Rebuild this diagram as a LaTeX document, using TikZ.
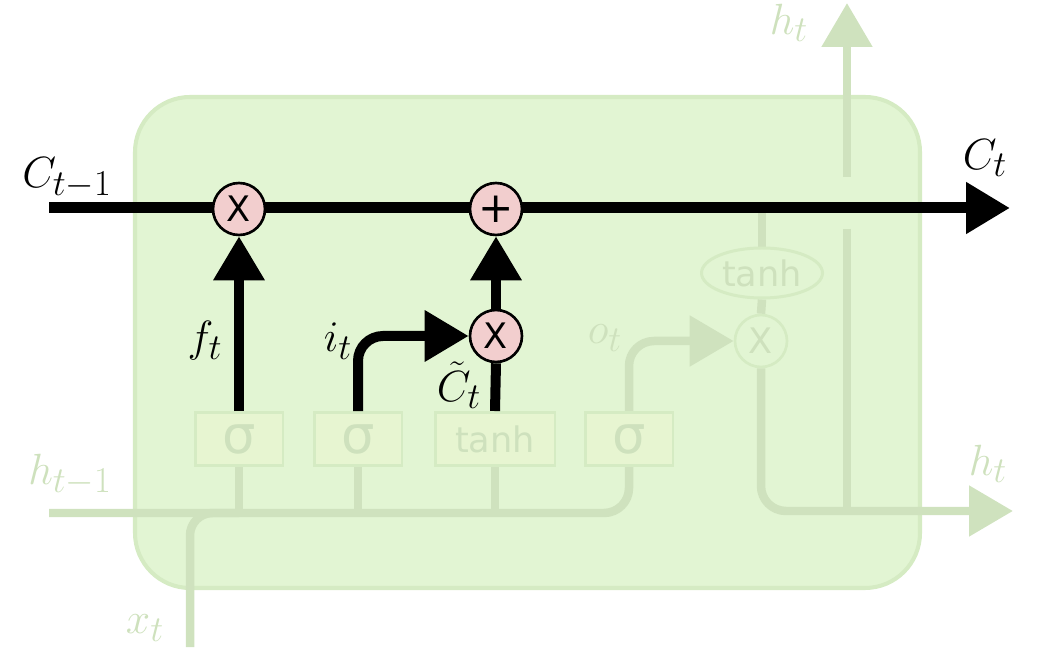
\documentclass[tikz,border=0pt]{standalone}
\usepackage{fontspec}
\newfontfamily\gatefont{DejaVu Sans}
\usetikzlibrary{arrows.meta,positioning,shapes.geometric}
\definecolor{cellfill}{RGB}{226,245,211}
\definecolor{celledge}{RGB}{213,235,195}
\definecolor{fadeline}{RGB}{207,226,190}
\definecolor{fadetext}{RGB}{206,225,189}
\definecolor{gatefill}{RGB}{231,245,209}
\definecolor{opfill}{RGB}{242,206,206}
\pgfdeclarelayer{cell}
\pgfdeclarelayer{flow}
\pgfsetlayers{cell,flow,main}

\tikzset{
    bigtip/.tip={Triangle[length=0.88cm,width=0.98cm]},
    cellline/.style={line width=0.22cm, black},
    gateline/.style={line width=0.2cm, black},
    fadeflow/.style={line width=0.17cm, fadeline},
    gatebox/.style={draw=celledge, fill=gatefill, line width=1.7pt, inner sep=0pt,
        minimum width=1.76cm, minimum height=1.06cm, text=fadetext,
        font=\gatefont\fontsize{30}{30}\selectfont},
    tanhbox/.style={gatebox, minimum width=2.4cm, font=\gatefont\fontsize{20}{20}\selectfont},
    tanhoval/.style={ellipse, draw=celledge, fill=cellfill, line width=1.7pt, inner sep=0pt,
        minimum width=2.42cm, minimum height=1.0cm, text=fadetext,
        font=\gatefont\fontsize{20}{20}\selectfont},
    opnode/.style={circle, draw=black, fill=opfill, line width=1.5pt, inner sep=0pt,
        minimum size=1.04cm, font=\gatefont\fontsize{20}{20}\selectfont},
    fadeop/.style={opnode, draw=celledge, fill=cellfill, text=fadetext},
    lbl/.style={font=\fontsize{28}{32}\selectfont},
    fadelbl/.style={lbl, text=fadetext}
}

\begin{document}
\begin{tikzpicture}[x=0.02cm, y=-0.02cm]
    \useasboundingbox (0,0) rectangle (1055,658);
    % the cell
    \begin{pgfonlayer}{cell}
    \fill[cellfill, draw=celledge, line width=2.3pt, rounded corners=1.1cm]
        (135,97) rectangle (920,588);
    \end{pgfonlayer}
    \coordinate (cprev) at (49,208);
    \coordinate (cnext) at (1010,208);
    \coordinate (hprev) at (49,513);
    \coordinate (hright) at (1013,511);
    \coordinate (xin) at (190,647);
    \coordinate (htop) at (847,3);
    \coordinate (gaphi) at (847,177);
    \coordinate (gaplo) at (847,229);

    \node[gatebox] (sigf) at (239,439) {σ};
    \node[gatebox] (sigi) at (358,439) {σ};
    \node[tanhbox] (tanhc) at (495,439) {tanh};
    \node[gatebox] (sigo) at (629,439) {σ};
    \node[fadeop] (multo) at (761,341) {X};
    \node[tanhoval] (tanho) at (762,273) {tanh};

    % faded input and output paths
    \begin{pgfonlayer}{flow}
    \draw[fadeflow, rounded corners=0.5cm] (hprev) -| (sigo.south);
    \draw[fadeflow, rounded corners=0.45cm] (xin) |- (sigf.south |- hprev);
    \foreach \g in {sigf, sigi, tanhc}
        \draw[fadeflow] (\g.south) -- (\g.south |- hprev);
    \draw[fadeflow, rounded corners=0.5cm, -{bigtip}] (sigo.north) |- (multo.west);
    \draw[fadeflow] (tanho.north |- cprev) -- (tanho.north);
    \draw[fadeflow] (tanho.south) -- (multo.north);
    \draw[fadeflow, rounded corners=0.5cm, -{bigtip}] (multo.south) |- (hright);
    \draw[fadeflow] (gaplo) -- (gaplo |- hright);
    \draw[fadeflow, -{bigtip}] (gaphi) -- (htop);
    \end{pgfonlayer}

    % cell state and the gates that act on it
    \draw[cellline, -{bigtip}] (cprev) -- (cnext);
    \node[opnode] (multf) at (239,209) {X};
    \node[opnode, font=\gatefont\fontsize{24}{24}\selectfont] (addi) at (496,209) {+};
    \node[opnode] (multi) at (496,336) {X};
    \draw[gateline, -{bigtip}] (sigf.north) -- (multf.south);
    \draw[gateline, rounded corners=0.5cm, -{bigtip}] (sigi.north) |- (multi.west);
    \draw[gateline] (tanhc.north) -- (multi.south);
    \draw[gateline, -{bigtip}] (multi.north) -- (addi.south);

    % labels
    \node[lbl] (lcprev) at (67,178) {$C_{t-1}$};
    \node[lbl] (lcnext) at (985,158) {$C_t$};
    \node[lbl] (lf) at (205,341) {$f_t$};
    \node[lbl] (li) at (338,341) {$i_t$};
    \node[lbl] (lctil) at (459,385) {$\tilde{C}_t$};
    \node[fadelbl] (lo) at (605,338) {$o_t$};
    \node[fadelbl] (lhprev) at (70,475) {$h_{t-1}$};
    \node[fadelbl] (lx) at (145,628) {$x_t$};
    \node[fadelbl] (lhtop) at (789,23) {$h_t$};
    \node[fadelbl] (lhright) at (988,464) {$h_t$};
\end{tikzpicture}
\end{document}
